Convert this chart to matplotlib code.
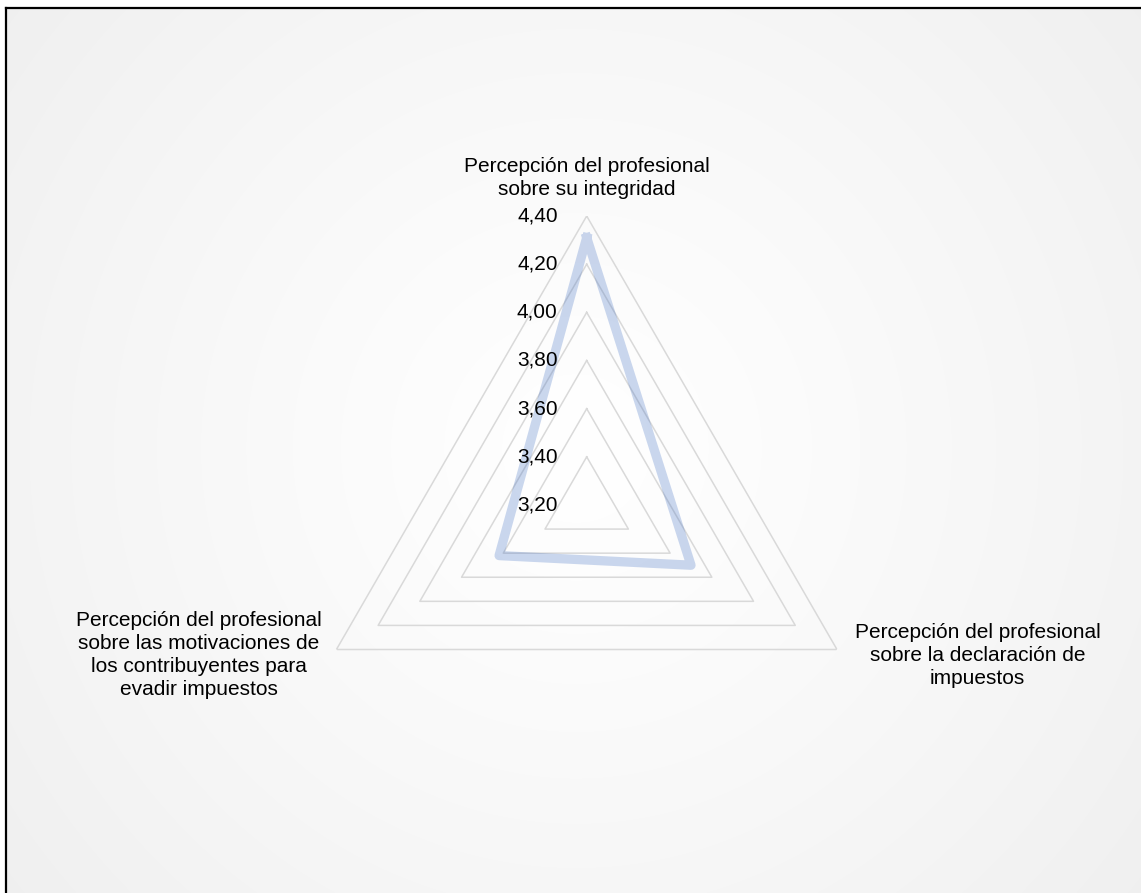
import numpy as np
import matplotlib
matplotlib.use('Agg')
import matplotlib.pyplot as plt
from matplotlib.lines import Line2D

plt.rcParams['font.family'] = ['Liberation Sans', 'DejaVu Sans']

categories = [
    'Percepción del profesional\nsobre su integridad',
    'Percepción del profesional\nsobre la declaración de\nimpuestos',
    'Percepción del profesional\nsobre las motivaciones de\nlos contribuyentes para\nevadir impuestos',
]
values = [4.31, 3.70, 3.62]
ticks = [3.20, 3.40, 3.60, 3.80, 4.00, 4.20, 4.40]
tick_labels = ['3,20', '3,40', '3,60', '3,80', '4,00', '4,20', '4,40']

W, H = 1141, 893
fig = plt.figure(figsize=(W / 100, H / 100), dpi=100)
fig.patch.set_facecolor('white')

# radial gradient background
bg = fig.add_axes([6 / W, 0, 1 - 6 / W, (H - 8) / H])
yy, xx = np.mgrid[0:H - 8, 0:W - 6]
cx, cy = 570, 440
d = np.sqrt((xx - cx) ** 2 + (yy - cy) ** 2) / np.sqrt(cx ** 2 + cy ** 2)
shade = 1 - 0.06 * np.clip(d, 0, 1) ** 1.2
bg.imshow(np.dstack([shade] * 3), aspect='auto', interpolation='bilinear')
bg.set_axis_off()

# frame lines on top and left
fig.add_artist(Line2D([6 / W, 1], [1 - 8 / H, 1 - 8 / H], color='black', lw=1.6, transform=fig.transFigure))
fig.add_artist(Line2D([6 / W, 6 / W], [0, 1 - 8 / H], color='black', lw=1.6, transform=fig.transFigure))

# radar axes
cxf, cyf = 586.7 / W, (H - 505) / H
rw, rh = 289 / W, 289 / H
ax = fig.add_axes([cxf - rw, cyf - rh, 2 * rw, 2 * rh], projection='polar')
ax.set_facecolor('none')
ax.set_theta_offset(np.pi / 2)
ax.set_theta_direction(-1)
ax.set_ylim(ticks[0], ticks[-1])
ax.spines['polar'].set_visible(False)
ax.grid(False)
ax.set_xticks([])
ax.set_yticks([])

n = len(categories)
angles = np.linspace(0, 2 * np.pi, n, endpoint=False).tolist()
angles_c = angles + angles[:1]

for t in ticks[1:]:
    ax.plot(angles_c, [t] * (n + 1), color='#d9d9d9', lw=1.1, zorder=1)

vals_c = values + values[:1]
ax.plot(angles_c, vals_c, color='#4472c4', alpha=0.28, lw=6.7, solid_joinstyle='round', zorder=3)

for t, lab in zip(ticks, tick_labels):
    ax.annotate(lab, xy=(0, t), xytext=(-29, 0), textcoords='offset pixels',
                ha='right', va='center', fontsize=15, color='black', annotation_clip=False)

offsets = [(0, 17, 'center', 'bottom'), (140.5, -6, 'center', 'center'), (-137.4, -5.5, 'center', 'center')]
for a, lab, (dx, dy, ha, va) in zip(angles, categories, offsets):
    ax.annotate(lab, xy=(a, ticks[-1]), xytext=(dx, dy), textcoords='offset pixels',
                ha=ha, va=va, fontsize=15, color='black', multialignment='center',
                linespacing=1.27, annotation_clip=False)

fig.savefig('out.png', dpi=100)
